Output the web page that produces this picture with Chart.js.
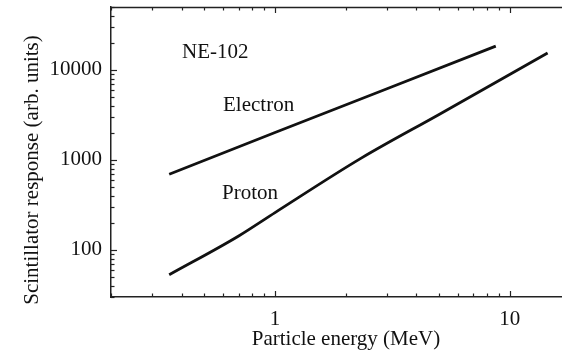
<!DOCTYPE html>
<html><head><meta charset="utf-8">
<script src="https://cdn.jsdelivr.net/npm/chart.js@4/dist/chart.umd.min.js"></script>
<style>html,body{margin:0;padding:0;background:#fff;overflow:hidden}canvas{display:block}</style>
</head><body>
<canvas id="c" width="562" height="352"></canvas>
<script>
// ---- data (log-log) ----
const electronEnergy   = [0.354, 1, 3, 8.72];
const electronResponse = [692, 2020, 6180, 18400];
const protonEnergy     = [0.354, 0.7, 1, 2.32, 5, 14.5];
const protonResponse   = [53, 143, 260, 1040, 3200, 15400];
const xTickLabels = [1, 10];
const yTickLabels = [100, 1000, 10000];
const xRange = [0.2, 16.7];
const yRange = [30, 50000];
const annotations = [
  {text: 'NE-102',   x: 182, y: 58},
  {text: 'Electron', x: 223, y: 111},
  {text: 'Proton',   x: 222, y: 199}
];
const xTitle = 'Particle energy (MeV)';
const yTitle = 'Scintillator response (arb. units)';

const FONT = '"Liberation Serif", "Times New Roman", serif';

function logTicks(min, max) {
  const out = [];
  for (let n = Math.floor(Math.log10(min)); n <= Math.ceil(Math.log10(max)); n++) {
    for (let k = 1; k <= 9; k++) {
      const v = Number((k * Math.pow(10, n)).toPrecision(12));
      if (v >= min - 1e-12 && v <= max + 1e-12) out.push(v);
    }
  }
  return out;
}
const toPts = (xs, ys) => xs.map((x, i) => ({x, y: ys[i]}));

const framePlugin = {
  id: 'frame',
  afterDraw(chart) {
    const {ctx, chartArea: a, scales: {x, y}} = chart;
    ctx.save();
    ctx.strokeStyle = '#222';
    ctx.lineWidth = 1.5;
    ctx.beginPath(); ctx.moveTo(a.left, a.top + 0.5); ctx.lineTo(a.right, a.top + 0.5); ctx.stroke();
    ctx.lineWidth = 1.2;
    const seg = (x1, y1, x2, y2) => { ctx.beginPath(); ctx.moveTo(x1, y1); ctx.lineTo(x2, y2); ctx.stroke(); };
    x.ticks.forEach(t => {
      const px = Math.round(x.getPixelForValue(t.value)) + 0.5;
      const L = xTickLabels.includes(t.value) ? 6 : 3.5;
      seg(px, a.bottom, px, a.bottom - L);
      seg(px, a.top, px, a.top + L);
    });
    y.ticks.forEach(t => {
      const py = Math.round(y.getPixelForValue(t.value)) + 0.5;
      const L = yTickLabels.includes(t.value) ? 6 : 3.5;
      seg(a.left, py, a.left + L, py);
    });
    ctx.fillStyle = '#111';
    ctx.font = '21px ' + FONT;
    ctx.textBaseline = 'alphabetic';
    ctx.textAlign = 'left';
    annotations.forEach(n => ctx.fillText(n.text, n.x, n.y));
    ctx.textAlign = 'center';
    ctx.fillText(xTitle, 346, 345);
    ctx.save();
    ctx.translate(38, 170);
    ctx.rotate(-Math.PI / 2);
    ctx.fillText(yTitle, 0, 0);
    ctx.restore();
    ctx.restore();
  }
};

new Chart(document.getElementById('c'), {
  type: 'line',
  data: {
    datasets: [
      {label: 'Electron', data: toPts(electronEnergy, electronResponse)},
      {label: 'Proton', data: toPts(protonEnergy, protonResponse), cubicInterpolationMode: 'monotone'}
    ]
  },
  options: {
    responsive: false,
    animation: false,
    devicePixelRatio: 1,
    layout: {padding: {top: 7, left: 0, right: 0, bottom: 0}},
    elements: {
      line: {borderColor: '#111', borderWidth: 2.8, tension: 0, fill: false, borderCapStyle: 'butt'},
      point: {radius: 0, hoverRadius: 0}
    },
    plugins: {legend: {display: false}, tooltip: {enabled: false}},
    scales: {
      x: {
        type: 'logarithmic',
        min: xRange[0], max: xRange[1],
        afterBuildTicks: s => { s.ticks = logTicks(s.min, s.max).map(v => ({value: v})); },
        afterFit: s => { s.height = 55; s.paddingLeft = 0; s.paddingRight = 0; },
        grid: {display: false, drawTicks: false},
        border: {display: true, color: '#222', width: 1.5},
        ticks: {
          autoSkip: false, maxRotation: 0, padding: 10,
          color: '#111', font: {family: FONT, size: 21},
          callback: v => xTickLabels.includes(v) ? String(v) : ''
        }
      },
      y: {
        type: 'logarithmic',
        min: yRange[0], max: yRange[1],
        afterBuildTicks: s => { s.ticks = logTicks(s.min, s.max).map(v => ({value: v})); },
        afterFit: s => { s.width = 111; s.paddingTop = 0; s.paddingBottom = 0; },
        grid: {display: false, drawTicks: false},
        border: {display: true, color: '#222', width: 1.5},
        ticks: {
          autoSkip: false, padding: 9,
          color: '#111', font: {family: FONT, size: 21},
          callback: v => yTickLabels.includes(v) ? String(v) : ''
        }
      }
    }
  },
  plugins: [framePlugin]
});
</script>
</body></html>
